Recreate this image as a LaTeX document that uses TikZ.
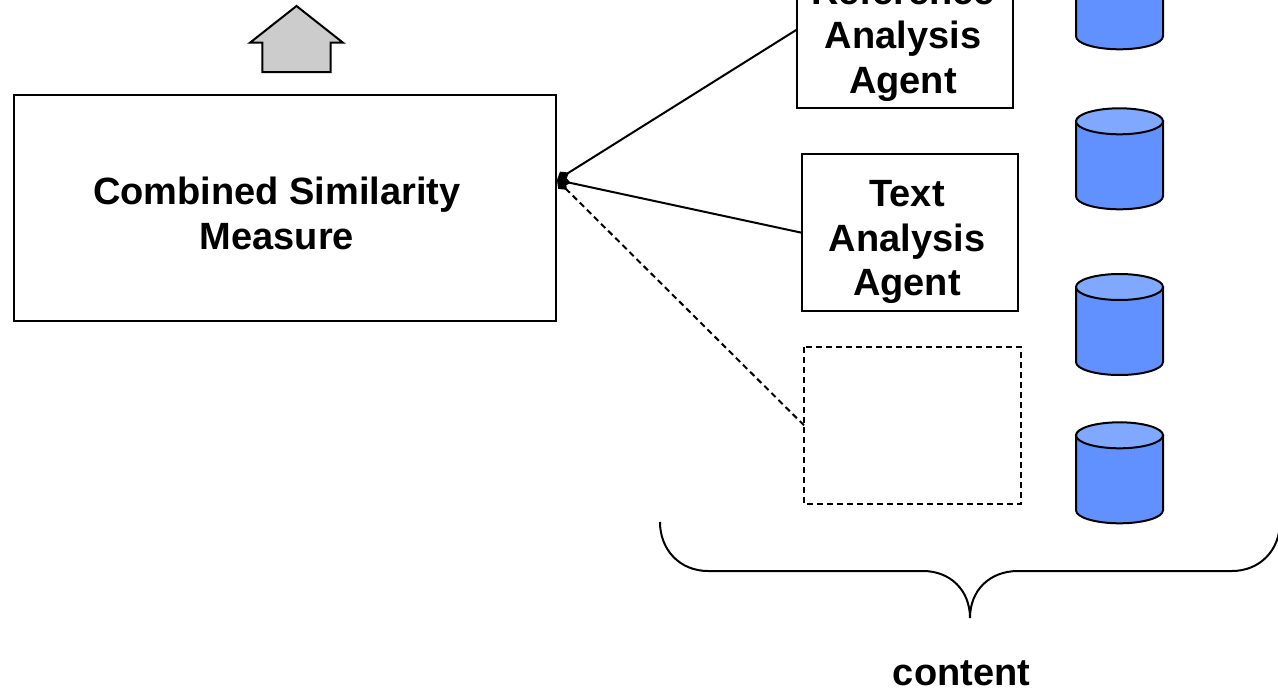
\documentclass[tikz,border=0pt]{standalone}
\usepackage{fontspec}
\setmainfont{Liberation Sans}
\usetikzlibrary{arrows.meta}

\begin{document}
\begin{tikzpicture}[y=1pt, x=1pt, yscale=-1, inner sep=0pt, outer sep=0pt,
  boxline/.style={draw=black,line width=2pt},
  agentbox/.style={boxline,minimum width=216pt,minimum height=157pt},
  bigtext/.style={font=\fontsize{38}{44.6}\selectfont\bfseries,align=center},
  feed/.style={draw=black,line width=2pt,-{Diamond[length=14pt,width=11pt]}},
  dbbody/.style={draw=black,line width=2pt,fill={rgb,255:red,97;green,144;blue,255}},
  dbtop/.style={draw=black,line width=2pt,fill={rgb,255:red,128;green,168;blue,255}}]
\useasboundingbox (0,0) rectangle (1278,688);
\path[fill=gray!40,draw=black,line width=2pt,line join=miter]
  (296.5,6) -- (343,42.7) -- (330.7,42.7) -- (330.7,72) -- (262.3,72)
  -- (262.3,42.7) -- (250,42.7) -- cycle;
\node[boxline,minimum width=542pt,minimum height=226pt] (rect2990) at (285,208) {};
\node[bigtext] (text2994) at (277,213.5) {Combined Similarity\\Measure};
\node[agentbox] (rect3001) at (904.5,29.8) {};
\node[bigtext] (text3005) at (903,39) {Reference\\Analysis\\Agent};
\node[agentbox] (rect3011) at (909.5,232.7) {};
\node[bigtext] (text3015) at (907,242) {Text\\Analysis\\Agent};
\node[agentbox,draw=none,minimum width=217pt] (rect3021) at (912.5,425.3) {};
\path[draw=black,line width=2pt,dash pattern=on 6pt off 4pt]
  (rect3021.north west) rectangle (rect3021.south east);
\coordinate (path3030) at (557,180);
\path[feed] (rect3001.west) -- (path3030);
\path[feed] (rect3011.west) -- (path3030);
\path[feed,dash pattern=on 6pt off 4pt] (rect3021.west) -- (path3030);
\path[dbbody] (1076,-38.7) -- (1076,36.3) arc[start angle=180,end angle=0,
  x radius=43.5,y radius=13] -- (1163,-38.7) -- cycle;
\path[dbtop] (1119.5,-38.7) ellipse[x radius=43.5,y radius=13];
\path[dbbody] (1076,121.3) -- (1076,196.3) arc[start angle=180,end angle=0,
  x radius=43.5,y radius=13] -- (1163,121.3) -- cycle;
\path[dbtop] (1119.5,121.3) ellipse[x radius=43.5,y radius=13];
\path[dbbody] (1076,287) -- (1076,362) arc[start angle=180,end angle=0,
  x radius=43.5,y radius=13] -- (1163,287) -- cycle;
\path[dbtop] (1119.5,287) ellipse[x radius=43.5,y radius=13];
\path[dbbody] (1076,435.3) -- (1076,510.3) arc[start angle=180,end angle=0,
  x radius=43.5,y radius=13] -- (1163,435.3) -- cycle;
\path[dbtop] (1119.5,435.3) ellipse[x radius=43.5,y radius=13];
\path[draw=black,line width=2pt]
  (660,522) .. controls (660,550) and (680,571) .. (708,571) -- (923,571)
  .. controls (950,571) and (970,590) .. (970,618)
  .. controls (970,590) and (990,571) .. (1018,571) -- (1232,571)
  .. controls (1260,571) and (1280,550) .. (1280,522);
\node[bigtext,anchor=base] (text3050) at (961.5,685) {content};
\end{tikzpicture}
\end{document}
